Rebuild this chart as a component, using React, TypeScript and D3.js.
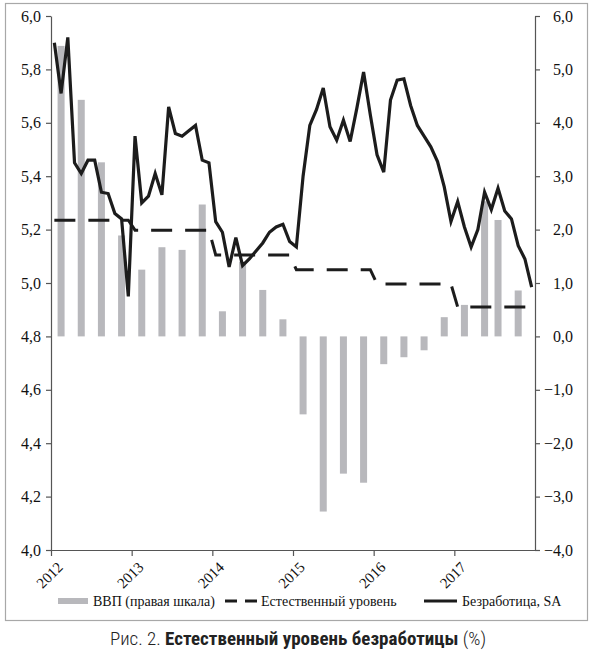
import { useEffect, useRef } from "react";
import * as d3 from "d3";

// Monthly unemployment, SA (%), Jan 2012 – Dec 2017 (left axis)
const unemployment = [
  5.9, 5.71, 5.92, 5.45, 5.41, 5.46, 5.46, 5.34, 5.335, 5.26, 5.24, 4.95,
  5.55, 5.3, 5.325, 5.41, 5.33, 5.66, 5.56, 5.55, 5.57, 5.59, 5.46, 5.45,
  5.23, 5.19, 5.06, 5.17, 5.065, 5.09, 5.12, 5.15, 5.19, 5.21, 5.22, 5.155,
  5.135, 5.4, 5.59, 5.65, 5.73, 5.585, 5.535, 5.61, 5.53, 5.655, 5.79, 5.63,
  5.48, 5.415, 5.685, 5.76, 5.765, 5.665, 5.59, 5.55, 5.51, 5.455, 5.36, 5.23,
  5.305, 5.21, 5.135, 5.2, 5.34, 5.275, 5.355, 5.27, 5.24, 5.14, 5.09, 4.985,
];
const unemploymentStart = "2012-01";

// Natural level (left axis): month, value
const naturalMonths = [
  "2012-01", "2012-12", "2013-01", "2013-12", "2014-01", "2014-12",
  "2015-01", "2015-12", "2016-01", "2016-12", "2017-01", "2017-12",
];
const naturalValues = [5.235, 5.235, 5.198, 5.198, 5.105, 5.105, 5.05, 5.05, 4.996, 4.996, 4.91, 4.91];

// GDP, quarterly (right axis)
const gdpMonths = [
  "2012-02", "2012-05", "2012-08", "2012-11",
  "2013-02", "2013-05", "2013-08", "2013-11",
  "2014-02", "2014-05", "2014-08", "2014-11",
  "2015-02", "2015-05", "2015-08", "2015-11",
  "2016-02", "2016-05", "2016-08", "2016-11",
  "2017-02", "2017-05", "2017-07", "2017-10",
];
const gdpValues = [
  5.44, 4.43, 3.26, 1.89, 1.25, 1.67, 1.62, 2.47, 0.47, 1.4, 0.87, 0.32,
  -1.46, -3.28, -2.57, -2.74, -0.52, -0.39, -0.26, 0.36, 0.59, 2.53, 2.18, 0.86,
];

const leftTicks = [4.0, 4.2, 4.4, 4.6, 4.8, 5.0, 5.2, 5.4, 5.6, 5.8, 6.0];
const rightTicks = [-4, -3, -2, -1, 0, 1, 2, 3, 4, 5, 6];
const yearTicks = [2012, 2013, 2014, 2015, 2016, 2017];

const legendLabels = ["ВВП (правая шкала)", "Естественный уровень", "Безработица, SA"];

const WIDTH = 595;
const HEIGHT = 663;
const PLOT = { left: 51, right: 535, top: 16, bottom: 550 };
const SERIF = "'Liberation Serif', 'DejaVu Serif', serif";
const NARROW = "'Roboto Condensed', 'Liberation Sans Narrow', 'DejaVu Sans Condensed', sans-serif";
const BAR_COLOR = "#b8b8bc";
const INK = "#1c1c1c";
const AXIS_COLOR = "#555";

function monthToYear(m: string): number {
  const [y, mo] = m.split("-").map(Number);
  return y + (mo - 0.5) / 12;
}

function fmt(v: number): string {
  return v.toFixed(1).replace(".", ",").replace("-", "\u2212");
}

export default function App() {
  const svgRef = useRef<SVGSVGElement>(null);

  useEffect(() => {
    const svg = d3.select(svgRef.current);
    svg.selectAll("*").remove();

    const x = d3.scaleLinear().domain([2012, 2018]).range([PLOT.left, PLOT.right]);
    const yL = d3.scaleLinear().domain([4, 6]).range([PLOT.bottom, PLOT.top]);
    const yR = d3.scaleLinear().domain([-4, 6]).range([PLOT.bottom, PLOT.top]);

    // frame
    svg
      .append("rect")
      .attr("x", 5.5)
      .attr("y", 3.5)
      .attr("width", 582)
      .attr("height", 617)
      .attr("fill", "none")
      .attr("stroke", "#a8a8a8")
      .attr("stroke-width", 1.2);

    // GDP bars
    const barW = 7;
    svg
      .append("g")
      .selectAll("rect")
      .data(gdpValues)
      .join("rect")
      .attr("x", (_, i) => x(monthToYear(gdpMonths[i])) - barW / 2)
      .attr("y", (d) => yR(Math.max(0, d)))
      .attr("width", barW)
      .attr("height", (d) => Math.abs(yR(d) - yR(0)))
      .attr("fill", BAR_COLOR);

    // natural level
    const natLine = d3
      .line<number>()
      .x((_, i) => x(monthToYear(naturalMonths[i])))
      .y((d) => yL(d));
    svg
      .append("path")
      .datum(naturalValues)
      .attr("d", natLine)
      .attr("fill", "none")
      .attr("stroke", INK)
      .attr("stroke-width", 3)
      .attr("stroke-dasharray", "21,13");

    // unemployment
    const startT = monthToYear(unemploymentStart);
    const uLine = d3
      .line<number>()
      .x((_, i) => x(startT + i / 12))
      .y((d) => yL(d));
    svg
      .append("path")
      .datum(unemployment)
      .attr("d", uLine)
      .attr("fill", "none")
      .attr("stroke", INK)
      .attr("stroke-width", 3.2)
      .attr("stroke-linejoin", "miter")
      .attr("stroke-miterlimit", 4);

    // axes
    const styleAxis = (g: d3.Selection<SVGGElement, unknown, null, undefined>) => {
      g.attr("font-family", null).attr("font-size", null);
      g.select(".domain").attr("stroke", AXIS_COLOR).attr("stroke-width", 1.2);
      g.selectAll(".tick line").attr("stroke", AXIS_COLOR).attr("stroke-width", 1.2);
      g.selectAll(".tick text")
        .attr("fill", "#111")
        .style("font-size", "16px")
        .style("font-family", SERIF);
    };

    svg
      .append("g")
      .attr("transform", `translate(${PLOT.left},0)`)
      .call(d3.axisLeft(yL).tickValues(leftTicks).tickSize(5).tickSizeOuter(0).tickPadding(5).tickFormat((v) => fmt(Number(v))))
      .call(styleAxis);

    const gr = svg
      .append("g")
      .attr("transform", `translate(${PLOT.right},0)`)
      .call(d3.axisRight(yR).tickValues(rightTicks).tickSize(5).tickSizeOuter(0).tickFormat((v) => fmt(Number(v))))
      .call(styleAxis);
    gr.selectAll(".tick text").attr("text-anchor", "end").attr("x", 38);

    const gb = svg
      .append("g")
      .attr("transform", `translate(0,${PLOT.bottom})`)
      .call(d3.axisBottom(x).tickValues(yearTicks).tickSize(6).tickSizeOuter(0).tickFormat((v) => String(v)))
      .call(styleAxis);
    gb.selectAll<SVGTextElement, number>(".tick text")
      .style("font-size", "15px")
      .attr("y", 0)
      .attr("dy", "0.35em")
      .attr("text-anchor", "middle")
      .attr("transform", "translate(-2,25) rotate(-45)");

    // legend
    const lg = svg.append("g").style("font-family", SERIF).style("font-size", "14px").attr("fill", "#111");
    const ly = 601;
    lg.append("rect").attr("x", 58).attr("y", ly - 3).attr("width", 30).attr("height", 6).attr("fill", BAR_COLOR);
    lg.append("text").attr("x", 93).attr("y", ly + 5).text(legendLabels[0]);
    lg.append("line")
      .attr("x1", 225).attr("x2", 258).attr("y1", ly).attr("y2", ly)
      .attr("stroke", INK).attr("stroke-width", 3).attr("stroke-dasharray", "12,8");
    lg.append("text").attr("x", 261).attr("y", ly + 5).text(legendLabels[1]);
    lg.append("line")
      .attr("x1", 424).attr("x2", 457).attr("y1", ly).attr("y2", ly)
      .attr("stroke", INK).attr("stroke-width", 3);
    lg.append("text").attr("x", 462).attr("y", ly + 5).text(legendLabels[2]);

    // caption
    const cap = svg
      .append("text")
      .attr("x", 298)
      .attr("y", 645)
      .attr("text-anchor", "middle")
      .style("font-family", NARROW)
      .style("font-size", "19px")
      .attr("fill", "#222");
    cap.append("tspan").attr("font-weight", 300).text("Рис. 2. ");
    cap.append("tspan").attr("font-weight", 700).text("Естественный уровень безработицы");
    cap.append("tspan").attr("font-weight", 300).text(" (%)");
  }, []);

  return (
    <svg
      ref={svgRef}
      width={WIDTH}
      height={HEIGHT}
      style={{ position: "absolute", left: 0, top: 0, background: "#fff" }}
    />
  );
}
